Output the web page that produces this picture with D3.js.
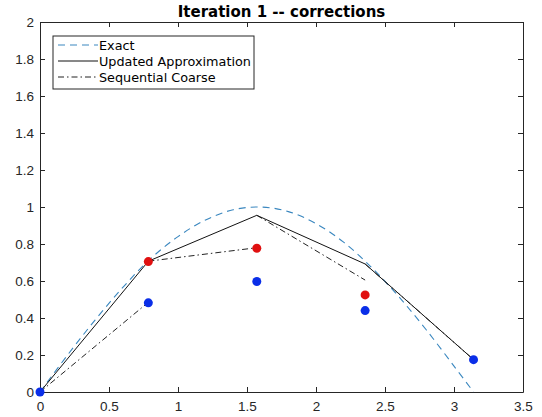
<!DOCTYPE html>
<html>
<head>
<meta charset="utf-8">
<script src="https://cdn.jsdelivr.net/npm/d3@7"></script>
<style>
  body { margin: 0; background: #fff; }
  svg { display: block; font-family: "DejaVu Sans", sans-serif; }
</style>
</head>
<body>
<div id="chart"></div>
<script>
// node positions
const nodes = [0, 0.785, 1.571, 2.356, 3.1416];

// exact solution
const exactX = [0, 0.2, 0.4, 0.6, 0.8, 1.0, 1.2, 1.4, 1.6, 1.8, 2.0, 2.2, 2.4, 2.6, 2.8, 3.0, 3.1416];
const exactY = [0, 0.2, 0.39, 0.565, 0.72, 0.84, 0.93, 0.985, 1.0, 0.975, 0.91, 0.81, 0.675, 0.515, 0.335, 0.14, 0];

// updated approximation (solid)
const updatedY = [0, 0.707, 0.955, 0.692, 0.175];

// sequential coarse segments: start value, end value between consecutive nodes
const coarseStart = [0, 0.707, 0.955, 0.692];
const coarseEnd = [0.485, 0.78, 0.605, 0.175];

// dots
const blueY = [0, 0.482, 0.597, 0.44, 0.175];
const redX = [0.785, 1.571, 2.356];
const redY = [0.705, 0.777, 0.525];

const xTicks = [0, 0.5, 1, 1.5, 2, 2.5, 3, 3.5];
const yTicks = [0, 0.2, 0.4, 0.6, 0.8, 1, 1.2, 1.4, 1.6, 1.8, 2];

const width = 542, height = 417,
  margin = ({top: 22, right: 19, bottom: 25, left: 40});

const svg = d3.select("#chart").append("svg")
  .attr("width", width).attr("height", height);

const x = d3.scaleLinear().domain([0, 3.5]).range([margin.left, width - margin.right]);
const y = d3.scaleLinear().domain([0, 2]).range([height - margin.bottom, margin.top]);

const axisCol = "#262626";
const fmt = d => String(d);

// axes, ticks pointing inward
svg.append("g")
  .attr("transform", `translate(0,${y(0)})`)
  .call(d3.axisBottom(x).tickValues(xTicks).tickFormat(fmt).tickSizeInner(-5).tickSizeOuter(0).tickPadding(9));
svg.append("g")
  .attr("transform", `translate(0,${y(2)})`)
  .call(d3.axisTop(x).tickValues(xTicks).tickFormat("").tickSizeInner(-5).tickSizeOuter(0));
svg.append("g")
  .attr("transform", `translate(${x(0)},0)`)
  .call(d3.axisLeft(y).tickValues(yTicks).tickFormat(fmt).tickSizeInner(-5).tickSizeOuter(0).tickPadding(6));
svg.append("g")
  .attr("transform", `translate(${x(3.5)},0)`)
  .call(d3.axisRight(y).tickValues(yTicks).tickFormat("").tickSizeInner(-5).tickSizeOuter(0));

svg.selectAll(".domain").attr("stroke", axisCol);
svg.selectAll(".tick line").attr("stroke", axisCol);
svg.selectAll(".tick text").attr("fill", axisCol).attr("font-size", 13.5);

// title
svg.append("text")
  .attr("x", (x(0) + x(3.5)) / 2).attr("y", 17)
  .attr("text-anchor", "middle")
  .attr("font-weight", "bold").attr("font-size", 15)
  .attr("fill", "#000")
  .text("Iteration 1 -- corrections");

const line = d3.line().x(d => x(d[0])).y(d => y(d[1]));

// exact (dashed)
svg.append("path")
  .datum(exactX.map((v, i) => [v, exactY[i]]))
  .attr("fill", "none").attr("stroke", "#3a87bf").attr("stroke-width", 1.1)
  .attr("stroke-dasharray", "7,5")
  .attr("d", line.curve(d3.curveCatmullRom));

line.curve(d3.curveLinear);

// updated approximation
svg.append("path")
  .datum(nodes.map((v, i) => [v, updatedY[i]]))
  .attr("fill", "none").attr("stroke", "#111").attr("stroke-width", 1)
  .attr("d", line);

// sequential coarse
svg.selectAll(".coarse")
  .data(coarseStart.map((v, i) => [[nodes[i], v], [nodes[i + 1], coarseEnd[i]]]))
  .join("path")
  .attr("class", "coarse")
  .attr("fill", "none").attr("stroke", "#222").attr("stroke-width", 1)
  .attr("stroke-dasharray", "6,3,1.5,3")
  .attr("d", line);

// dots
svg.selectAll(".blue")
  .data(nodes.map((v, i) => [v, blueY[i]]))
  .join("circle")
  .attr("cx", d => x(d[0])).attr("cy", d => y(d[1])).attr("r", 4.5)
  .attr("fill", "#0a2ee8");
svg.selectAll(".red")
  .data(redX.map((v, i) => [v, redY[i]]))
  .join("circle")
  .attr("cx", d => x(d[0])).attr("cy", d => y(d[1])).attr("r", 4.5)
  .attr("fill", "#e01010");

// legend
const legend = svg.append("g").attr("transform", "translate(53,36)");
legend.append("rect")
  .attr("width", 201).attr("height", 53)
  .attr("fill", "#fff").attr("stroke", axisCol).attr("stroke-width", 1);
const items = [
  {name: "Exact", color: "#3a87bf", dash: "7,5"},
  {name: "Updated Approximation", color: "#111", dash: null},
  {name: "Sequential Coarse", color: "#222", dash: "6,3,1.5,3"}
];
items.forEach((d, i) => {
  const yy = 9 + i * 16;
  legend.append("line")
    .attr("x1", 5).attr("x2", 45).attr("y1", yy).attr("y2", yy)
    .attr("stroke", d.color).attr("stroke-width", 1)
    .attr("stroke-dasharray", d.dash);
  legend.append("text")
    .attr("x", 46).attr("y", yy + 4.5)
    .attr("font-size", 12.8).attr("fill", "#000")
    .text(d.name);
});
</script>
</body>
</html>
